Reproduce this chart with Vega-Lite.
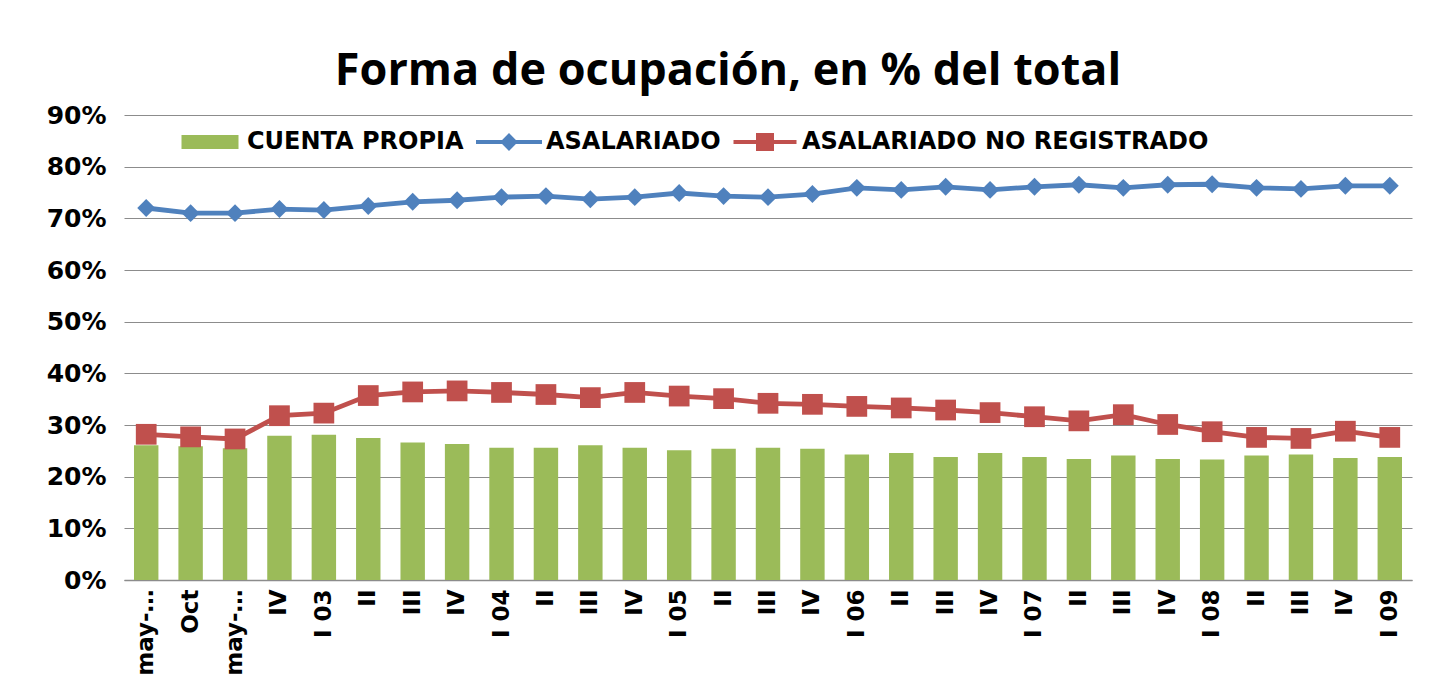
{
  "$schema": "https://vega.github.io/schema/vega-lite/v6.json",
  "width": 1288,
  "height": 465,
  "autosize": {"type": "none"},
  "padding": {"left": 124, "top": 115, "right": 36, "bottom": 118},
  "background": "white",
  "title": {
    "text": "Forma de ocupación, en % del total",
    "font": "Open Sans",
    "fontSize": 45,
    "fontWeight": "bold",
    "color": "#000000",
    "anchor": "middle",
    "dx": -40,
    "dy": 57,
    "baseline": "alphabetic",
    "offset": 30
  },
  "config": {
    "view": {"stroke": null},
    "font": "DejaVu Sans"
  },
  "data": {
    "values": [
      {"k": 0, "s": "CUENTA PROPIA", "v": 26.1}, {"k": 1, "s": "CUENTA PROPIA", "v": 25.9}, {"k": 2, "s": "CUENTA PROPIA", "v": 25.5},
      {"k": 3, "s": "CUENTA PROPIA", "v": 27.9}, {"k": 4, "s": "CUENTA PROPIA", "v": 28.1}, {"k": 5, "s": "CUENTA PROPIA", "v": 27.5},
      {"k": 6, "s": "CUENTA PROPIA", "v": 26.6}, {"k": 7, "s": "CUENTA PROPIA", "v": 26.3}, {"k": 8, "s": "CUENTA PROPIA", "v": 25.6},
      {"k": 9, "s": "CUENTA PROPIA", "v": 25.6}, {"k": 10, "s": "CUENTA PROPIA", "v": 26.1}, {"k": 11, "s": "CUENTA PROPIA", "v": 25.6},
      {"k": 12, "s": "CUENTA PROPIA", "v": 25.1}, {"k": 13, "s": "CUENTA PROPIA", "v": 25.4}, {"k": 14, "s": "CUENTA PROPIA", "v": 25.6},
      {"k": 15, "s": "CUENTA PROPIA", "v": 25.4}, {"k": 16, "s": "CUENTA PROPIA", "v": 24.3}, {"k": 17, "s": "CUENTA PROPIA", "v": 24.6},
      {"k": 18, "s": "CUENTA PROPIA", "v": 23.8}, {"k": 19, "s": "CUENTA PROPIA", "v": 24.6}, {"k": 20, "s": "CUENTA PROPIA", "v": 23.8},
      {"k": 21, "s": "CUENTA PROPIA", "v": 23.4}, {"k": 22, "s": "CUENTA PROPIA", "v": 24.1}, {"k": 23, "s": "CUENTA PROPIA", "v": 23.4},
      {"k": 24, "s": "CUENTA PROPIA", "v": 23.3}, {"k": 25, "s": "CUENTA PROPIA", "v": 24.1}, {"k": 26, "s": "CUENTA PROPIA", "v": 24.3},
      {"k": 27, "s": "CUENTA PROPIA", "v": 23.6}, {"k": 28, "s": "CUENTA PROPIA", "v": 23.8},

      {"k": 0, "s": "ASALARIADO", "v": 72.0}, {"k": 1, "s": "ASALARIADO", "v": 71.0}, {"k": 2, "s": "ASALARIADO", "v": 71.0},
      {"k": 3, "s": "ASALARIADO", "v": 71.8}, {"k": 4, "s": "ASALARIADO", "v": 71.6}, {"k": 5, "s": "ASALARIADO", "v": 72.4},
      {"k": 6, "s": "ASALARIADO", "v": 73.2}, {"k": 7, "s": "ASALARIADO", "v": 73.5}, {"k": 8, "s": "ASALARIADO", "v": 74.1},
      {"k": 9, "s": "ASALARIADO", "v": 74.3}, {"k": 10, "s": "ASALARIADO", "v": 73.7}, {"k": 11, "s": "ASALARIADO", "v": 74.1},
      {"k": 12, "s": "ASALARIADO", "v": 74.9}, {"k": 13, "s": "ASALARIADO", "v": 74.3}, {"k": 14, "s": "ASALARIADO", "v": 74.1},
      {"k": 15, "s": "ASALARIADO", "v": 74.7}, {"k": 16, "s": "ASALARIADO", "v": 75.9}, {"k": 17, "s": "ASALARIADO", "v": 75.5},
      {"k": 18, "s": "ASALARIADO", "v": 76.1}, {"k": 19, "s": "ASALARIADO", "v": 75.5}, {"k": 20, "s": "ASALARIADO", "v": 76.1},
      {"k": 21, "s": "ASALARIADO", "v": 76.5}, {"k": 22, "s": "ASALARIADO", "v": 75.9}, {"k": 23, "s": "ASALARIADO", "v": 76.5},
      {"k": 24, "s": "ASALARIADO", "v": 76.6}, {"k": 25, "s": "ASALARIADO", "v": 75.9}, {"k": 26, "s": "ASALARIADO", "v": 75.7},
      {"k": 27, "s": "ASALARIADO", "v": 76.3}, {"k": 28, "s": "ASALARIADO", "v": 76.3},

      {"k": 0, "s": "ASALARIADO NO REGISTRADO", "v": 28.2}, {"k": 1, "s": "ASALARIADO NO REGISTRADO", "v": 27.7}, {"k": 2, "s": "ASALARIADO NO REGISTRADO", "v": 27.3},
      {"k": 3, "s": "ASALARIADO NO REGISTRADO", "v": 31.8}, {"k": 4, "s": "ASALARIADO NO REGISTRADO", "v": 32.3}, {"k": 5, "s": "ASALARIADO NO REGISTRADO", "v": 35.7},
      {"k": 6, "s": "ASALARIADO NO REGISTRADO", "v": 36.4}, {"k": 7, "s": "ASALARIADO NO REGISTRADO", "v": 36.6}, {"k": 8, "s": "ASALARIADO NO REGISTRADO", "v": 36.3},
      {"k": 9, "s": "ASALARIADO NO REGISTRADO", "v": 35.9}, {"k": 10, "s": "ASALARIADO NO REGISTRADO", "v": 35.3}, {"k": 11, "s": "ASALARIADO NO REGISTRADO", "v": 36.3},
      {"k": 12, "s": "ASALARIADO NO REGISTRADO", "v": 35.6}, {"k": 13, "s": "ASALARIADO NO REGISTRADO", "v": 35.1}, {"k": 14, "s": "ASALARIADO NO REGISTRADO", "v": 34.2},
      {"k": 15, "s": "ASALARIADO NO REGISTRADO", "v": 34.0}, {"k": 16, "s": "ASALARIADO NO REGISTRADO", "v": 33.6}, {"k": 17, "s": "ASALARIADO NO REGISTRADO", "v": 33.3},
      {"k": 18, "s": "ASALARIADO NO REGISTRADO", "v": 32.9}, {"k": 19, "s": "ASALARIADO NO REGISTRADO", "v": 32.4}, {"k": 20, "s": "ASALARIADO NO REGISTRADO", "v": 31.6},
      {"k": 21, "s": "ASALARIADO NO REGISTRADO", "v": 30.8}, {"k": 22, "s": "ASALARIADO NO REGISTRADO", "v": 32.0}, {"k": 23, "s": "ASALARIADO NO REGISTRADO", "v": 30.1},
      {"k": 24, "s": "ASALARIADO NO REGISTRADO", "v": 28.7}, {"k": 25, "s": "ASALARIADO NO REGISTRADO", "v": 27.6}, {"k": 26, "s": "ASALARIADO NO REGISTRADO", "v": 27.4},
      {"k": 27, "s": "ASALARIADO NO REGISTRADO", "v": 28.8}, {"k": 28, "s": "ASALARIADO NO REGISTRADO", "v": 27.6}
    ]
  },
  "encoding": {
    "x": {
      "field": "k",
      "type": "ordinal",
      "title": null,
      "scale": {"paddingInner": 0.45, "paddingOuter": 0.225},
      "axis": {
        "labelExpr": "['may-…','Oct','may-…','IV','I 03','II','III','IV','I 04','II','III','IV','I 05','II','III','IV','I 06','II','III','IV','I 07','II','III','IV','I 08','II','III','IV','I 09'][datum.value]",
        "labelAngle": -90,
        "labelFont": "DejaVu Sans",
        "labelFontSize": 23,
        "labelFontWeight": "bold",
        "labelColor": "#000000",
        "labelPadding": 9,
        "labelLimit": 0,
        "ticks": false,
        "domainColor": "#8c8c8c",
        "domainWidth": 1.5,
        "grid": false
      }
    },
    "y": {
      "field": "v",
      "type": "quantitative",
      "title": null,
      "scale": {"domain": [0, 90], "nice": false},
      "axis": {
        "values": [0, 10, 20, 30, 40, 50, 60, 70, 80, 90],
        "labelExpr": "datum.value + '%'",
        "labelFont": "DejaVu Sans",
        "labelFontSize": 25,
        "labelFontWeight": "bold",
        "labelColor": "#000000",
        "labelPadding": 18,
        "ticks": false,
        "domain": false,
        "grid": true,
        "gridColor": "#8c8c8c",
        "gridWidth": 1.2
      }
    }
  },
  "layer": [
    {
      "transform": [{"filter": "datum.s === 'CUENTA PROPIA'"}],
      "mark": {"type": "bar", "opacity": 1},
      "encoding": {
        "color": {
          "field": "s",
          "type": "nominal",
          "scale": {
            "domain": ["CUENTA PROPIA", "ASALARIADO", "ASALARIADO NO REGISTRADO"],
            "range": ["#9BBB59", "#4F81BD", "#C0504D"]
          }
        }
      }
    },
    {
      "transform": [{"filter": "datum.s !== 'CUENTA PROPIA'"}],
      "mark": {"type": "line", "strokeWidth": 4.8},
      "encoding": {
        "color": {"field": "s", "type": "nominal"}
      }
    },
    {
      "transform": [{"filter": "datum.s === 'ASALARIADO'"}],
      "mark": {"type": "point", "filled": true, "opacity": 1, "shape": "diamond", "size": 320},
      "encoding": {
        "color": {"field": "s", "type": "nominal"}
      }
    },
    {
      "transform": [{"filter": "datum.s === 'ASALARIADO NO REGISTRADO'"}],
      "mark": {"type": "point", "filled": true, "opacity": 1, "shape": "square", "size": 430},
      "encoding": {
        "color": {"field": "s", "type": "nominal"}
      }
    },
    {
      "mark": {"type": "point", "filled": true, "opacity": 1, "size": 0},
      "encoding": {
        "color": {
          "field": "s",
          "type": "nominal",
          "legend": {
            "title": null,
            "orient": "none",
            "direction": "horizontal",
            "legendX": 56,
            "legendY": -3,
            "symbolSize": 3600,
            "symbolOpacity": 1,
            "symbolStrokeWidth": 0,
            "labelFont": "DejaVu Sans",
            "labelFontSize": 24,
            "labelFontWeight": "bold",
            "labelColor": "#000000",
            "labelOffset": 7,
            "labelLimit": 0,
            "columnPadding": 12
          }
        },
        "shape": {
          "field": "s",
          "type": "nominal",
          "scale": {
            "domain": ["CUENTA PROPIA", "ASALARIADO", "ASALARIADO NO REGISTRADO"],
            "range": [
              "M-0.95,-0.233H0.95V0.233H-0.95Z",
              "M-1.1,-0.07H-0.23L0,-0.3L0.23,-0.07H1.1V0.07H0.23L0,0.3L-0.23,0.07H-1.1Z",
              "M-1.05,-0.07H-0.3V-0.3H0.3V-0.07H1.05V0.07H0.3V0.3H-0.3V0.07H-1.05Z"
            ]
          },
          "legend": {
            "title": null,
            "orient": "none",
            "direction": "horizontal",
            "legendX": 56,
            "legendY": -3,
            "symbolSize": 3600,
            "symbolOpacity": 1,
            "symbolStrokeWidth": 0,
            "labelFont": "DejaVu Sans",
            "labelFontSize": 24,
            "labelFontWeight": "bold",
            "labelColor": "#000000",
            "labelOffset": 7,
            "labelLimit": 0,
            "columnPadding": 12
          }
        }
      }
    }
  ]
}
